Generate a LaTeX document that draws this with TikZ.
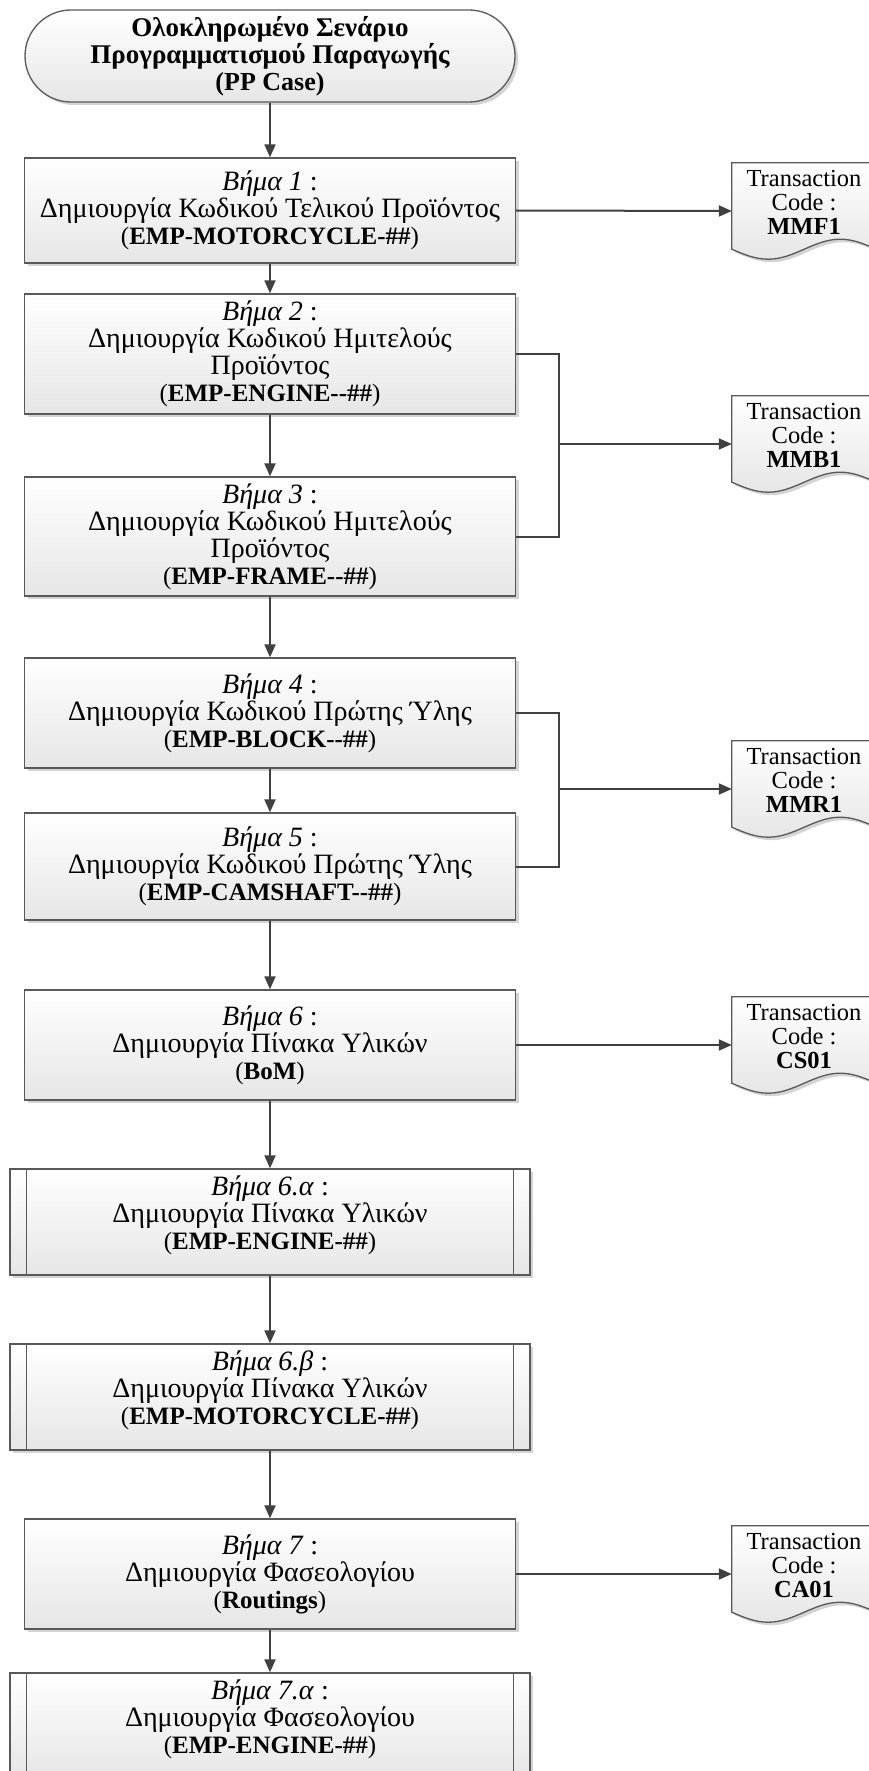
\documentclass[tikz,border=0pt]{standalone}
\usepackage{fontspec}
\setmainfont{Liberation Serif}
\usetikzlibrary{arrows.meta,calc,shadows}
\definecolor{edgec}{HTML}{595959}
\definecolor{wirec}{HTML}{404040}
\definecolor{shadeb}{HTML}{E6E6E6}
\definecolor{shadowc}{HTML}{D4D4D4}

% Greek lines are set a little larger than the Latin codes
\newcommand\G[1]{{\fontsize{28}{27}\selectfont #1}}
\newcommand\GB[1]{{\fontsize{27}{27}\selectfont\bfseries #1}}

% outline of a "document" symbol with a wavy lower edge, fitted to node #1
\newcommand\docoutline[1]{%
  \path[docpaper]
    (#1.north west) -- (#1.north east) -- ([yshift=10pt]#1.south east)
    sin ([xshift=-36pt,yshift=20pt]#1.south east)
    cos ([xshift=-72pt,yshift=10pt]#1.south east)
    sin ([xshift=-108pt]#1.south east)
    cos ([yshift=10pt]#1.south west) -- cycle;}

\begin{document}
\begin{tikzpicture}[x=1pt,y=-1pt,
  font=\fontsize{25}{27}\selectfont,
  castshadow/.style={drop shadow={shadow xshift=3pt,shadow yshift=-3pt,fill=shadowc,opacity=1}},
  boxbase/.style={castshadow, draw=edgec, line width=1.3pt, top color=white,
                  bottom color=shadeb, align=center, inner sep=0pt},
  stepbox/.style={boxbase, rectangle, minimum width=491pt},
  subbox/.style={boxbase, rectangle, minimum width=520pt, minimum height=106pt},
  startbox/.style={boxbase, rectangle, rounded corners=46pt, minimum width=490pt, minimum height=92pt},
  docbox/.style={rectangle, minimum width=144pt, minimum height=96pt, inner sep=0pt},
  docpaper/.style={castshadow, draw=edgec, line width=1.3pt, top color=white, bottom color=shadeb},
  doctext/.style={align=center, inner sep=0pt, font=\fontsize{24.5}{24}\selectfont},
  wire/.style={draw=wirec, line width=2pt},
  flow/.style={wire, -{Triangle[length=13pt,width=11pt]}},
]
\useasboundingbox (0,0) rectangle (869,1771);
\clip (0,0) rectangle (869,1771);

% main column
\node[startbox] (start) at (270,56)
  {\GB{Ολοκληρωμένο Σενάριο}\\\GB{Προγραμματισμού Παραγωγής}\\{\fontsize{26}{27}\selectfont\bfseries (PP Case)}};
\node[stepbox, minimum height=105pt] (s1) at (270,210.5)
  {\G{\textit{Βήμα 1} :}\\\G{Δημιουργία Κωδικού Τελικού Προϊόντος}\\(\textbf{EMP-MOTORCYCLE-\#\#})};
\node[stepbox, minimum height=120pt] (s2) at (270,354)
  {\G{\textit{Βήμα 2} :}\\\G{Δημιουργία Κωδικού Ημιτελούς}\\\G{Προϊόντος}\\(\textbf{EMP-ENGINE-{}-\#\#})};
\node[stepbox, minimum height=119pt] (s3) at (270,536.5)
  {\G{\textit{Βήμα 3} :}\\\G{Δημιουργία Κωδικού Ημιτελούς}\\\G{Προϊόντος}\\(\textbf{EMP-FRAME-{}-\#\#})};
\node[stepbox, minimum height=110pt] (s4) at (270,713)
  {\G{\textit{Βήμα 4} :}\\\G{Δημιουργία Κωδικού Πρώτης Ύλης}\\(\textbf{EMP-BLOCK-{}-\#\#})};
\node[stepbox, minimum height=107pt] (s5) at (270,866.5)
  {\G{\textit{Βήμα 5} :}\\\G{Δημιουργία Κωδικού Πρώτης Ύλης}\\(\textbf{EMP-CAMSHAFT-{}-\#\#})};
\node[stepbox, minimum height=110pt] (s6) at (270,1045)
  {\G{\textit{Βήμα 6} :}\\\G{Δημιουργία Πίνακα Υλικών}\\(\textbf{BoM})};
\node[subbox] (s6a) at (270,1222)
  {\G{\textit{Βήμα 6.α} :}\\\G{Δημιουργία Πίνακα Υλικών}\\(\textbf{EMP-ENGINE-\#\#})\\[-8pt]\mbox{}};
\node[subbox] (s6b) at (270,1397)
  {\G{\textit{Βήμα 6.β} :}\\\G{Δημιουργία Πίνακα Υλικών}\\(\textbf{EMP-MOTORCYCLE-\#\#})\\[-8pt]\mbox{}};
\node[stepbox, minimum height=110pt] (s7) at (270,1574)
  {\G{\textit{Βήμα 7} :}\\\G{Δημιουργία Φασεολογίου}\\(\textbf{Routings})};
\node[subbox] (s7a) at (270,1726)
  {\G{\textit{Βήμα 7.α} :}\\\G{Δημιουργία Φασεολογίου}\\(\textbf{EMP-ENGINE-\#\#})\\[-8pt]\mbox{}};

% inner bars of the predefined-process boxes
\foreach \n in {s6a,s6b,s7a}{
  \draw[draw=edgec, line width=1.3pt] ([xshift=17pt]\n.north west) -- ([xshift=17pt]\n.south west);
  \draw[draw=edgec, line width=1.3pt] ([xshift=-17pt]\n.north east) -- ([xshift=-17pt]\n.south east);
}

% transaction-code documents
\node[docbox] (d1) at (804,211) {};
\node[docbox] (d2) at (804,444) {};
\node[docbox] (d3) at (804,789) {};
\node[docbox] (d4) at (804,1045) {};
\node[docbox] (d5) at (804,1574) {};
\foreach \d/\c in {d1/MMF1,d2/MMB1,d3/MMR1,d4/CS01,d5/CA01}{
  \docoutline{\d}
  \node[doctext] (\d t) at ([yshift=9pt]\d.center) {Transaction\\Code :\\\textbf{\c}};
}

% vertical flow
\draw[flow] (start.south) -- (s1.north);
\draw[flow] (s1.south) -- (s2.north);
\draw[flow] (s2.south) -- (s3.north);
\draw[flow] (s3.south) -- (s4.north);
\draw[flow] (s4.south) -- (s5.north);
\draw[flow] (s5.south) -- (s6.north);
\draw[flow] (s6.south) -- (s6a.north);
\draw[flow] (s6a.south) -- (s6b.north);
\draw[flow] (s6b.south) -- (s7.north);
\draw[flow] (s7.south) -- (s7a.north);

% links to the transaction codes
\coordinate (j1) at (559,444);
\coordinate (j2) at (559,789);
\draw[flow] (s1.east) -- (d1.west);
\draw[wire] (s2.east) -| (j1) |- (s3.east);
\draw[flow] (j1) -- (d2.west);
\draw[wire] (s4.east) -| (j2) |- (s5.east);
\draw[flow] (j2) -- (d3.west);
\draw[flow] (s6.east) -- (d4.west);
\draw[flow] (s7.east) -- (d5.west);
\end{tikzpicture}
\end{document}
